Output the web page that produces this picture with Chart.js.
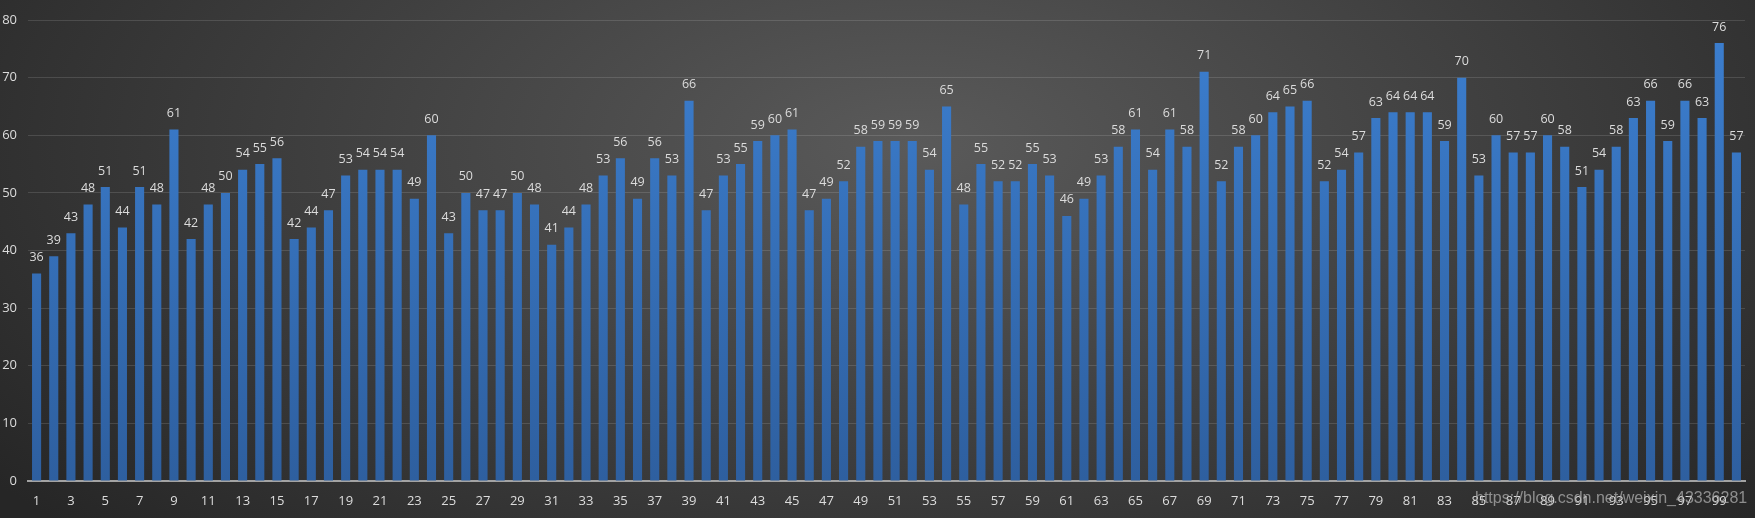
<!DOCTYPE html>
<html>
<head>
<meta charset="utf-8">
<script src="https://cdn.jsdelivr.net/npm/chart.js@4/dist/chart.umd.min.js"></script>
<style>
  html, body { margin: 0; padding: 0; }
  body {
    width: 1755px; height: 518px; overflow: hidden; position: relative;
    background: radial-gradient(ellipse 65% 110% at 52% 28%, #5a5a5a 0%, #404040 50%, #262626 100%);
  }
  #chart { position: absolute; left: 0; top: 0; }
  .mark {
    position: absolute; left: 1475px; top: 489px;
    font: 16px "Liberation Sans", Arial, sans-serif;
    color: rgba(175, 175, 175, 0.75); white-space: nowrap;
  }
</style>
</head>
<body>
<canvas id="chart" width="1755" height="518"></canvas>
<div class="mark">https://blog.csdn.net/weixin_43336281</div>
<script>
// Data

const categories = Array.from({ length: 100 }, (_, i) => String(i + 1));

const values = [
  36, 39, 43, 48, 51, 44, 51, 48, 61, 42,
  48, 50, 54, 55, 56, 42, 44, 47, 53, 54,
  54, 54, 49, 60, 43, 50, 47, 47, 50, 48,
  41, 44, 48, 53, 56, 49, 56, 53, 66, 47,
  53, 55, 59, 60, 61, 47, 49, 52, 58, 59,
  59, 59, 54, 65, 48, 55, 52, 52, 55, 53,
  46, 49, 53, 58, 61, 54, 61, 58, 71, 52,
  58, 60, 64, 65, 66, 52, 54, 57, 63, 64,
  64, 64, 59, 70, 53, 60, 57, 57, 60, 58,
  51, 54, 58, 63, 66, 59, 66, 63, 76, 57
];

const yTicks = [0, 10, 20, 30, 40, 50, 60, 70, 80];

const textColor = '#dcdcdc';

// Value labels above the bars
const valueLabels = {
  id: 'valueLabels',
  afterDatasetsDraw(chart) {
    const ctx = chart.ctx;
    const meta = chart.getDatasetMeta(0);
    ctx.save();
    ctx.fillStyle = textColor;
    ctx.font = '12.5px "Open Sans", sans-serif';
    ctx.textAlign = 'center';
    ctx.textBaseline = 'middle';
    meta.data.forEach((bar, i) => {
      ctx.fillText(values[i], bar.x, bar.y - 16);
    });
    ctx.restore();
  }
};

function barFill(context) {
  const area = context.chart.chartArea;
  if (!area) return '#3a78c8';
  const g = context.chart.ctx.createLinearGradient(0, area.top, 0, area.bottom);
  g.addColorStop(0, '#3c7fd0');
  g.addColorStop(1, '#2e5f9f');
  return g;
}

const ctx = document.querySelector('#chart');

const barChart = new Chart(ctx, {
  type: 'bar',
  data: {
    labels: categories,
    datasets: [{
      data: values,
      backgroundColor: barFill,
      borderWidth: 0,
      barPercentage: 0.53,
      categoryPercentage: 1
    }]
  },
  options: {
    responsive: false,
    animation: false,
    layout: {
      padding: { top: 20, right: 10, left: 0, bottom: 0 }
    },
    plugins: {
      legend: { display: false },
      tooltip: { enabled: false }
    },
    scales: {
      x: {
        grid: { display: false },
        border: { color: '#a3a3a3', width: 2 },
        ticks: {
          color: textColor,
          font: { family: '"Open Sans", sans-serif', size: 13 },
          autoSkip: false,
          maxRotation: 0,
          padding: 4,
          callback: (v, i) => (i % 2 === 0 ? categories[i] : '')
        },
        afterFit: (s) => { s.height = 37; }
      },
      y: {
        min: yTicks[0],
        max: yTicks[yTicks.length - 1],
        grid: { color: 'rgba(255,255,255,0.13)', drawTicks: false },
        border: { display: false },
        ticks: {
          stepSize: yTicks[1] - yTicks[0],
          color: textColor,
          font: { family: '"Open Sans", sans-serif', size: 13 },
          padding: 11
        },
        afterFit: (s) => { s.width = 28; }
      }
    }
  },
  plugins: [valueLabels]
});
</script>
</body>
</html>
